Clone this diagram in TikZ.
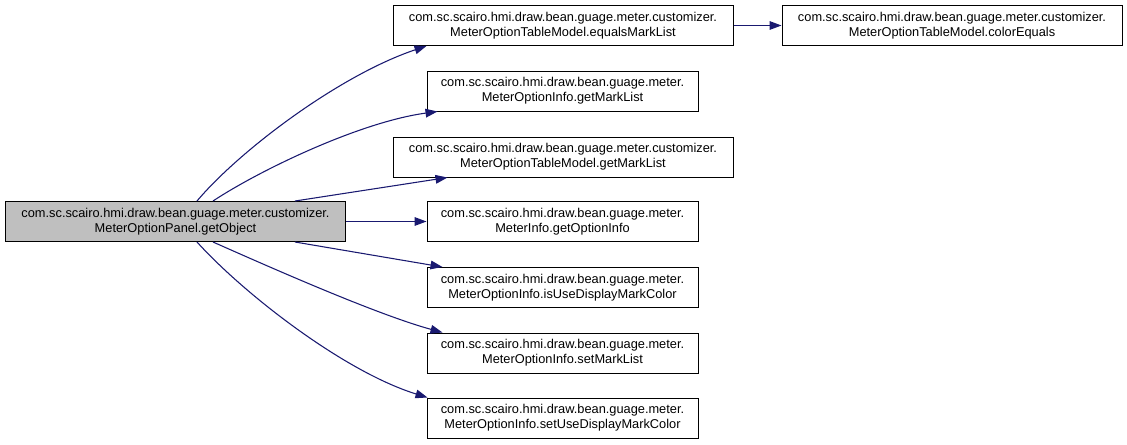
\documentclass[tikz,border=0pt]{standalone}
\usepackage{fontspec}
\setmainfont{Liberation Sans}
\usetikzlibrary{arrows.meta,calc}
\definecolor{edgeblue}{HTML}{191970}
\definecolor{rootgray}{HTML}{BFBFBF}
\begin{document}
\begin{tikzpicture}[x=0.75pt,y=-0.75pt,
  box/.style={draw=black, line width=0.75pt, minimum height=30pt, inner sep=0pt,
    align=center, font=\fontsize{9.6}{11.2}\selectfont, text=black},
  wide/.style={box, minimum width=255pt},
  narrow/.style={box, minimum width=203.25pt},
  call/.style={draw=edgeblue, line width=0.8pt, -{Triangle[length=9pt,width=6.5pt]}, fill=none}
]
\useasboundingbox (0,0) rectangle (1127,444);
\node[wide, fill=rootgray] (root) at (175.5,221.5) {com.sc.scairo.hmi.draw.bean.guage.meter.customizer.\\MeterOptionPanel.getObject};
\node[wide] (n1) at (563,25.5) {com.sc.scairo.hmi.draw.bean.guage.meter.customizer.\\MeterOptionTableModel.equalsMarkList};
\node[wide] (n8) at (952,25.5) {com.sc.scairo.hmi.draw.bean.guage.meter.customizer.\\MeterOptionTableModel.colorEquals};
\node[narrow] (n2) at (562.5,91) {com.sc.scairo.hmi.draw.bean.guage.meter.\\MeterOptionInfo.getMarkList};
\node[wide] (n3) at (563,157) {com.sc.scairo.hmi.draw.bean.guage.meter.customizer.\\MeterOptionTableModel.getMarkList};
\node[narrow] (n4) at (562.5,221.5) {com.sc.scairo.hmi.draw.bean.guage.meter.\\MeterInfo.getOptionInfo};
\node[narrow] (n5) at (562.5,287.5) {com.sc.scairo.hmi.draw.bean.guage.meter.\\MeterOptionInfo.isUseDisplayMarkColor};
\node[narrow] (n6) at (562.5,353) {com.sc.scairo.hmi.draw.bean.guage.meter.\\MeterOptionInfo.setMarkList};
\node[narrow] (n7) at (562.5,418) {com.sc.scairo.hmi.draw.bean.guage.meter.\\MeterOptionInfo.setUseDisplayMarkColor};

\draw[call] ($(root.north west)+(192,0)$) .. controls (240,150) and (340,75) .. ($(n1.south west)+(34,0)$);
\draw[call] ($(root.north west)+(208,0)$) .. controls (260,170) and (360,122) .. ($(n2.south west)+(11,0)$);
\draw[call] ($(root.north west)+(290,0)$) -- ($(n3.south west)+(55,0)$);
\draw[call] (root.east) -- (n4.west);
\draw[call] ($(root.south west)+(290,0)$) -- ($(n5.north west)+(16,0)$);
\draw[call] ($(root.south west)+(208,0)$) .. controls (265,265) and (375,314) .. ($(n6.north west)+(16,0)$);
\draw[call] ($(root.south west)+(192,0)$) .. controls (245,295) and (345,372) .. ($(n7.north west)+(1,0)$);
\draw[call] (n1.east) -- (n8.west);
\end{tikzpicture}
\end{document}
